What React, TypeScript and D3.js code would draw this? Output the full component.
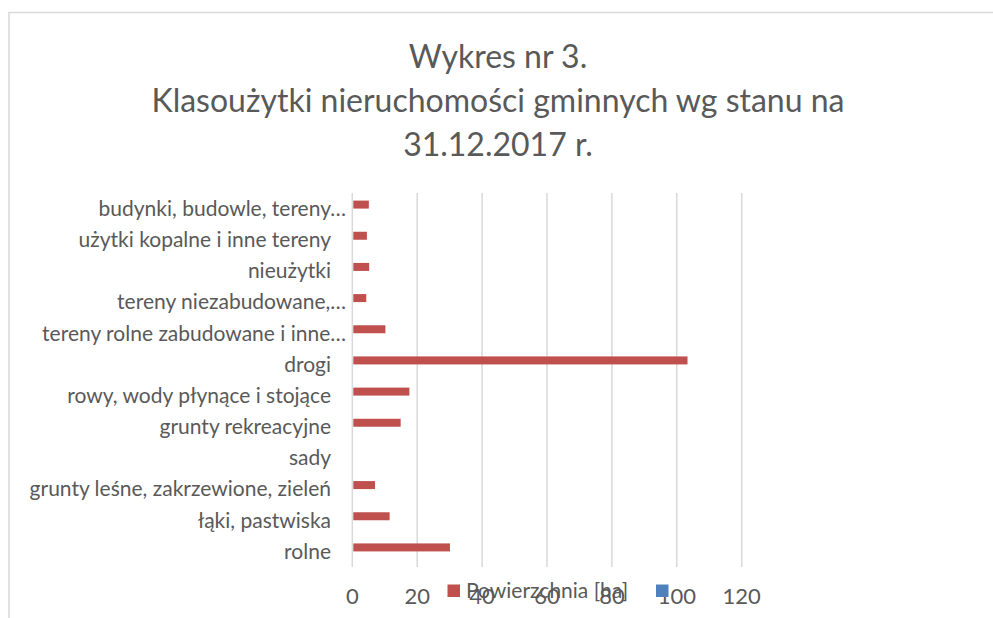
import { useEffect, useRef } from "react";
import * as d3 from "d3";

// categories listed bottom-to-top as in the original sheet
const categories = [
  "rolne",
  "łąki, pastwiska",
  "grunty leśne, zakrzewione, zieleń",
  "sady",
  "grunty rekreacyjne",
  "rowy, wody płynące i stojące",
  "drogi",
  "tereny rolne zabudowane i inne…",
  "tereny niezabudowane,…",
  "nieużytki",
  "użytki kopalne i inne tereny",
  "budynki, budowle, tereny…",
];

const seriesNames = ["Powierzchnia [ha]", ""];
const powierzchnia = [30.1, 11.5, 7.0, 0, 14.9, 17.6, 103.3, 10.2, 4.3, 5.2, 4.5, 5.1];
const xTicks = [0, 20, 40, 60, 80, 100, 120];
const titleLines = [
  "Wykres nr 3.",
  "Klasoużytki nieruchomości gminnych wg stanu na",
  "31.12.2017 r.",
];

const W = 993;
const H = 618;
const FONT = "Lato, 'Open Sans', sans-serif";
const TEXT = "#595959";
const GRID = "#D9D9D9";
const colors = ["#C0504D", "#4F81BD"];

export default function App() {
  const svgRef = useRef<SVGSVGElement>(null);

  useEffect(() => {
    document.body.style.margin = "0";
    if (!svgRef.current) return;
    const svg = d3.select(svgRef.current);
    svg.selectAll("*").remove();

    // chart frame
    svg
      .append("rect")
      .attr("x", 9)
      .attr("y", 12.5)
      .attr("width", W + 20)
      .attr("height", H + 20)
      .attr("fill", "white")
      .attr("stroke", GRID)
      .attr("stroke-width", 1.5);

    // title
    svg
      .append("g")
      .selectAll("text")
      .data(titleLines)
      .join("text")
      .attr("x", 498)
      .attr("y", (_, i) => 68 + i * 44)
      .attr("text-anchor", "middle")
      .attr("font-family", FONT)
      .attr("font-size", 32)
      .attr("fill", TEXT)
      .text((d) => d);

    const plot = { left: 352.3, right: 741.7, top: 193, bottom: 567 };

    const x = d3.scaleLinear().domain([0, 120]).range([plot.left, plot.right]);

    const y = d3
      .scaleBand()
      .domain(categories.slice().reverse())
      .range([plot.top, plot.bottom])
      .paddingInner(0.487)
      .paddingOuter(0.2435);

    const ySub = d3.scaleBand().domain(["s0", "s1"]).range([0, y.bandwidth()]);

    // grid lines
    svg
      .append("g")
      .selectAll("line")
      .data(xTicks)
      .join("line")
      .attr("x1", (d) => x(d))
      .attr("x2", (d) => x(d))
      .attr("y1", plot.top)
      .attr("y2", plot.bottom)
      .attr("stroke", GRID)
      .attr("stroke-width", 1.5);

    // bars
    svg
      .append("g")
      .selectAll("rect")
      .data(categories.map((c, i) => ({ c, v: powierzchnia[i] })))
      .join("rect")
      .attr("x", x(0) + 1)
      .attr("y", (d) => (y(d.c) || 0) + (ySub("s0") || 0))
      .attr("width", (d) => Math.max(0, x(d.v) - x(0) - 1))
      .attr("height", ySub.bandwidth())
      .attr("fill", colors[0]);

    // x tick labels
    svg
      .append("g")
      .selectAll("text")
      .data(xTicks)
      .join("text")
      .attr("x", (d) => x(d))
      .attr("y", 604)
      .attr("text-anchor", "middle")
      .attr("font-family", FONT)
      .attr("font-size", 22)
      .attr("fill", TEXT)
      .text((d) => d3.format("d")(d));

    // category labels (truncated ones run a little past the others)
    svg
      .append("g")
      .selectAll("text")
      .data(categories)
      .join("text")
      .attr("x", (d) => (d.endsWith("…") ? 346 : 331))
      .attr("y", (d) => (y(d) || 0) + y.bandwidth() / 2)
      .attr("dy", "0.35em")
      .attr("text-anchor", "end")
      .attr("font-family", FONT)
      .attr("font-size", 21)
      .attr("fill", TEXT)
      .text((d) => d);

    // legend
    const legend = svg.append("g");
    legend
      .append("rect")
      .attr("x", 447.5)
      .attr("y", 584.5)
      .attr("width", 12.5)
      .attr("height", 12.5)
      .attr("fill", colors[0]);
    legend
      .append("text")
      .attr("x", 466)
      .attr("y", 598)
      .attr("font-family", FONT)
      .attr("font-size", 21)
      .attr("fill", TEXT)
      .text(seriesNames[0]);
    legend
      .append("rect")
      .attr("x", 656)
      .attr("y", 584.5)
      .attr("width", 12.5)
      .attr("height", 12.5)
      .attr("fill", colors[1]);
  }, []);

  return <svg ref={svgRef} width={W} height={H} style={{ display: "block" }} />;
}
